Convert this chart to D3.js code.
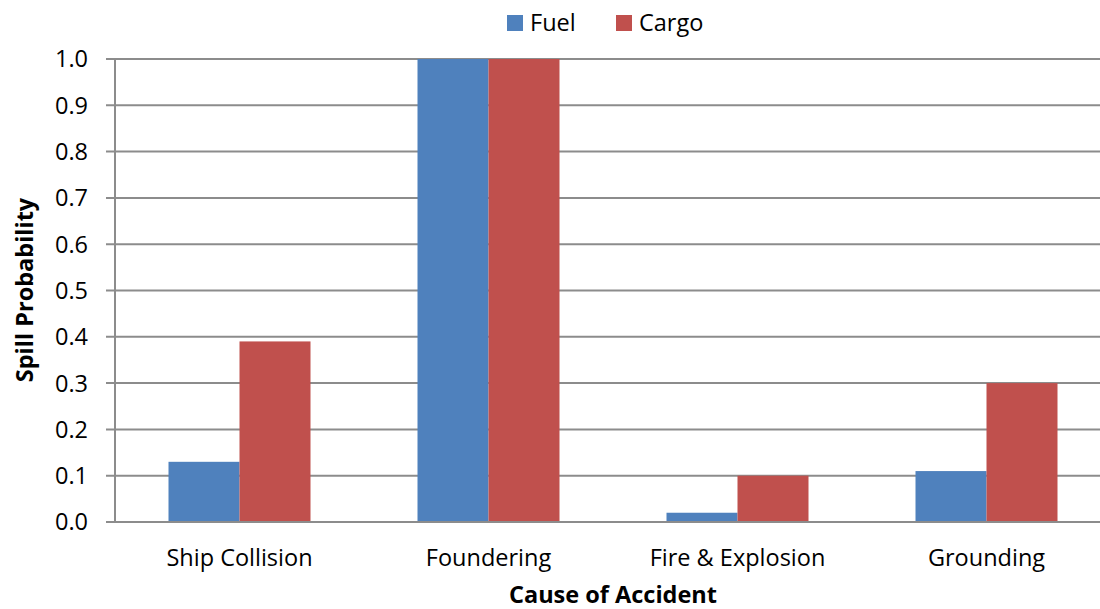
<!DOCTYPE html>
<html><head><meta charset="utf-8">
<script src="https://cdn.jsdelivr.net/npm/d3@7"></script>
<style>body{margin:0;background:#fff}svg{display:block;font-family:"Open Sans",sans-serif}</style>
</head><body><svg id="c" width="1100" height="609"></svg>
<script>
const categories = ["Ship Collision","Foundering","Fire & Explosion","Grounding"];
const seriesNames = ["Fuel","Cargo"];
const fuelValues = [0.13,1.0,0.02,0.11];
const cargoValues = [0.39,1.0,0.10,0.30];
const yTicks = [0,0.1,0.2,0.3,0.4,0.5,0.6,0.7,0.8,0.9,1.0];
const colors = ["#4F81BD","#C0504D"];

(function(){
const svg = d3.select("#c");
const pLeft = 115, pBottom = 522, pTop = 59, bandW = 249;
const fs = 23.5;
const x = d3.scaleBand().domain(categories).range([pLeft, pLeft + bandW*categories.length]).padding(0);
const xs = d3.scaleBand().domain(seriesNames).range([0, bandW]).paddingInner(0).paddingOuter(0.7535);
const y = d3.scaleLinear().domain([0,1]).range([pBottom, pTop]);

svg.append("g").selectAll("line").data(yTicks).join("line")
  .attr("x1", pLeft-9).attr("x2", 1100)
  .attr("y1", d=>y(d)).attr("y2", d=>y(d))
  .attr("stroke","#8c8c8c").attr("stroke-width",2);

const data = categories.map((c,i)=>({c, vals:[fuelValues[i], cargoValues[i]]}));
const g = svg.append("g").selectAll("g").data(data).join("g").attr("transform", d=>`translate(${x(d.c)},0)`);
g.selectAll("rect").data(d=>d.vals.map((v,j)=>({v, s:seriesNames[j], j}))).join("rect")
  .attr("x", d=>xs(d.s)).attr("width", xs.bandwidth())
  .attr("y", d=>y(d.v)).attr("height", d=>pBottom - y(d.v))
  .attr("fill", d=>colors[d.j]);

svg.append("line").attr("x1",pLeft-9).attr("x2",1100).attr("y1",pBottom).attr("y2",pBottom).attr("stroke","#8c8c8c").attr("stroke-width",2);
svg.append("line").attr("x1",pLeft).attr("x2",pLeft).attr("y1",pTop).attr("y2",pBottom).attr("stroke","#8c8c8c").attr("stroke-width",2);

svg.append("g").selectAll("text").data(yTicks).join("text")
  .attr("x", 88).attr("y", d=>y(d)).attr("dy","0.36em")
  .attr("text-anchor","end").attr("font-size",fs).attr("fill","#000")
  .text(d=>d3.format(".1f")(d));

svg.append("g").selectAll("text").data(categories).join("text")
  .attr("x", d=>x(d)+bandW/2).attr("y", 566)
  .attr("text-anchor","middle").attr("font-size",fs).attr("fill","#000")
  .text(d=>d);

svg.append("text").attr("x", 613).attr("y", 603).attr("text-anchor","middle")
  .attr("font-size",fs).attr("font-weight","bold").text("Cause of Accident");
svg.append("text").attr("transform","translate(33,290) rotate(-90)").attr("text-anchor","middle")
  .attr("font-size",fs).attr("font-weight","bold").text("Spill Probability");

const lx = [507, 616];
const lg = svg.append("g").selectAll("g").data(seriesNames).join("g").attr("transform",(d,i)=>`translate(${lx[i]},0)`);
lg.append("rect").attr("x",0).attr("y",15).attr("width",16).attr("height",16).attr("fill",(d,i)=>colors[i]);
lg.append("text").attr("x",23).attr("y",31).attr("font-size",fs).text(d=>d);
})();
</script></body></html>
